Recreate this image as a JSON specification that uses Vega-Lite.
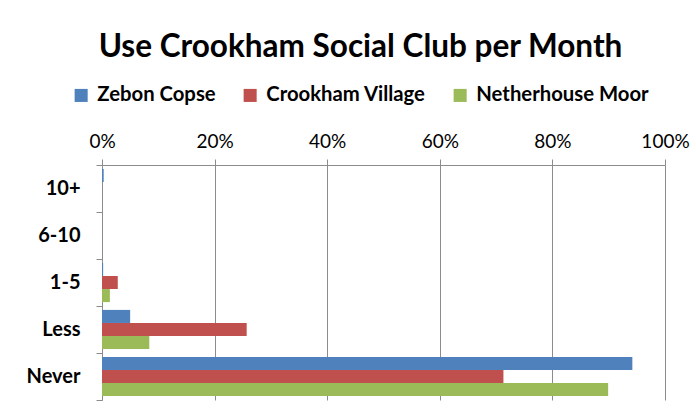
{
  "$schema": "https://vega.github.io/schema/vega-lite/v6.json",
  "width": 563,
  "height": 235,
  "autosize": "none",
  "padding": {"left": 102, "top": 165, "right": 31, "bottom": 20},
  "background": "white",
  "title": {
    "text": "Use Crookham Social Club per Month",
    "font": "Lato",
    "fontSize": 31.5,
    "fontWeight": "bold",
    "color": "black",
    "anchor": "middle",
    "frame": "group",
    "dx": -23,
    "offset": 22
  },
  "data": {
    "values": [
      {"freq": "10+", "area": "Zebon Copse", "share": 0.003},
      {"freq": "10+", "area": "Crookham Village", "share": 0},
      {"freq": "10+", "area": "Netherhouse Moor", "share": 0},
      {"freq": "6-10", "area": "Zebon Copse", "share": 0},
      {"freq": "6-10", "area": "Crookham Village", "share": 0},
      {"freq": "6-10", "area": "Netherhouse Moor", "share": 0},
      {"freq": "1-5", "area": "Zebon Copse", "share": 0.002},
      {"freq": "1-5", "area": "Crookham Village", "share": 0.028},
      {"freq": "1-5", "area": "Netherhouse Moor", "share": 0.014},
      {"freq": "Less", "area": "Zebon Copse", "share": 0.05},
      {"freq": "Less", "area": "Crookham Village", "share": 0.257},
      {"freq": "Less", "area": "Netherhouse Moor", "share": 0.084},
      {"freq": "Never", "area": "Zebon Copse", "share": 0.942},
      {"freq": "Never", "area": "Crookham Village", "share": 0.713},
      {"freq": "Never", "area": "Netherhouse Moor", "share": 0.899}
    ]
  },
  "mark": {"type": "bar"},
  "encoding": {
    "y": {
      "field": "freq",
      "type": "nominal",
      "sort": ["10+", "6-10", "1-5", "Less", "Never"],
      "scale": {"paddingInner": 0, "paddingOuter": 0},
      "axis": {
        "title": null,
        "tickBand": "extent",
        "labelFont": "Lato",
        "labelFontSize": 20,
        "labelFontWeight": "bold",
        "labelColor": "black",
        "labelPadding": 16,
        "tickSize": 6,
        "tickColor": "#8c8c8c",
        "domainColor": "#8c8c8c"
      }
    },
    "yOffset": {
      "field": "area",
      "type": "nominal",
      "sort": ["Zebon Copse", "Crookham Village", "Netherhouse Moor"],
      "scale": {"paddingInner": 0, "paddingOuter": 0.3}
    },
    "x": {
      "field": "share",
      "type": "quantitative",
      "scale": {"domain": [0, 1], "nice": false},
      "axis": {
        "orient": "top",
        "title": null,
        "values": [0, 0.2, 0.4, 0.6, 0.8, 1],
        "format": ".0%",
        "labelFlush": false,
        "labelFont": "Lato",
        "labelFontSize": 19,
        "labelColor": "black",
        "labelPadding": 8,
        "tickSize": 6,
        "tickColor": "#8c8c8c",
        "domainColor": "#8c8c8c",
        "gridColor": "#8c8c8c",
        "gridOpacity": 1
      }
    },
    "color": {
      "field": "area",
      "type": "nominal",
      "sort": ["Zebon Copse", "Crookham Village", "Netherhouse Moor"],
      "scale": {
        "domain": ["Zebon Copse", "Crookham Village", "Netherhouse Moor"],
        "range": ["#4F81BD", "#C0504D", "#9BBB59"]
      },
      "legend": {
        "title": null,
        "orient": "none",
        "direction": "horizontal",
        "legendX": -31,
        "legendY": -80,
        "symbolType": "square",
        "symbolSize": 170,
        "symbolStrokeWidth": 0,
        "labelFont": "Lato",
        "labelFontSize": 20.3,
        "labelFontWeight": "bold",
        "labelColor": "black",
        "labelOffset": 6,
        "columnPadding": 24,
        "labelLimit": 300
      }
    }
  },
  "config": {"view": {"stroke": null}}
}
